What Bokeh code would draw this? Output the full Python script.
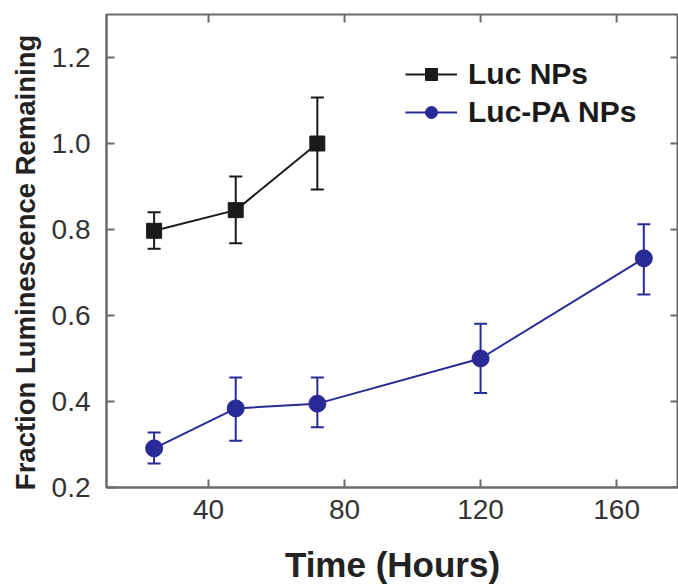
import math
from bokeh.plotting import figure
from bokeh.models import (ColumnDataSource, Whisker, TeeHead, Legend, LegendItem,
                          FixedTicker, Range1d, NumeralTickFormatter)
from bokeh.embed import file_html
from bokeh.resources import INLINE

# ---- data ----
luc_time = [24, 48, 72]
luc_mean = [0.797, 0.845, 1.000]
luc_lower = [0.755, 0.768, 0.893]
luc_upper = [0.840, 0.923, 1.107]

pa_time = [24, 48, 72, 120, 168]
pa_mean = [0.291, 0.384, 0.395, 0.500, 0.733]
pa_lower = [0.256, 0.309, 0.340, 0.420, 0.649]
pa_upper = [0.328, 0.456, 0.456, 0.581, 0.812]

x_ticks = [40, 80, 120, 160]
y_ticks = [0.2, 0.4, 0.6, 0.8, 1.0, 1.2]

BLACK = "#1a1a1a"
BLUE = "#2a2a96"
AXIS = "#6a6a6a"
FONT = "Liberation Sans"

X_START, X_END = 10, 178.2
Y_START, Y_END = 0.2, 1.3

p = figure(width=678, height=588, output_backend="svg", toolbar_location=None,
           x_range=Range1d(X_START, X_END), y_range=Range1d(Y_START, Y_END),
           min_border_left=106, min_border_right=0, min_border_top=14,
           min_border_bottom=101)
p.outline_line_color = AXIS
p.outline_line_width = 2
p.xgrid.visible = False
p.ygrid.visible = False


def style_axis(ax, ticks):
    ax.ticker = FixedTicker(ticks=ticks)
    ax.axis_line_color = AXIS
    ax.axis_line_width = 2
    ax.major_tick_line_color = AXIS
    ax.major_tick_line_width = 2
    ax.major_tick_in = 8
    ax.major_tick_out = 0
    ax.minor_tick_line_color = None
    ax.major_label_text_font = FONT
    ax.major_label_text_font_size = "28px"
    ax.major_label_text_color = "#333333"
    ax.axis_label_text_font = FONT
    ax.axis_label_text_font_style = "bold"
    ax.axis_label_text_color = "#222222"


xa = p.xaxis[0]
style_axis(xa, x_ticks)
xa.axis_label = "Time (Hours)"
xa.axis_label_text_font_size = "35px"
xa.major_label_standoff = 12
xa.axis_label_standoff = 23

ya = p.yaxis[0]
style_axis(ya, y_ticks)
ya.formatter = NumeralTickFormatter(format="0.0")
# trailing non-breaking spaces nudge the label slightly downward, as in the original
ya.axis_label = "Fraction Luminescence Remaining\u00a0\u00a0\u00a0"
ya.axis_label_text_font_size = "27.5px"
ya.major_label_standoff = 16
ya.axis_label_standoff = 8

# inward tick marks on the top and right frame edges (clipped to the frame)
p.scatter(x=x_ticks, y=[Y_END] * len(x_ticks), marker="dash", angle=math.pi / 2,
          size=16, line_color=AXIS, line_width=2)
p.scatter(x=[X_END] * len(y_ticks), y=y_ticks, marker="dash",
          size=16, line_color=AXIS, line_width=2)

luc_src = ColumnDataSource(dict(x=luc_time, y=luc_mean, lo=luc_lower, hi=luc_upper))
pa_src = ColumnDataSource(dict(x=pa_time, y=pa_mean, lo=pa_lower, hi=pa_upper))

for src, col in ((luc_src, BLACK), (pa_src, BLUE)):
    w = Whisker(source=src, base="x", lower="lo", upper="hi", dimension="height",
                line_color=col, line_width=2,
                upper_head=TeeHead(size=13, line_color=col, line_width=2),
                lower_head=TeeHead(size=13, line_color=col, line_width=2))
    p.add_layout(w)

l1 = p.line("x", "y", source=luc_src, line_color=BLACK, line_width=2)
m1 = p.scatter("x", "y", source=luc_src, marker="square", size=15,
               fill_color=BLACK, line_color=BLACK)
l2 = p.line("x", "y", source=pa_src, line_color=BLUE, line_width=2)
m2 = p.scatter("x", "y", source=pa_src, marker="circle", size=17,
               fill_color=BLUE, line_color=BLUE)

legend = Legend(items=[LegendItem(label="Luc NPs", renderers=[l1, m1]),
                       LegendItem(label="Luc-PA NPs", renderers=[l2, m2])],
                location=(299, 358))
legend.padding = 0
legend.margin = 0
legend.border_line_color = None
legend.background_fill_alpha = 0
legend.glyph_width = 52
legend.glyph_height = 30
legend.label_height = 30
legend.spacing = 4
legend.label_standoff = 11
legend.label_text_font = FONT
legend.label_text_font_style = "bold"
legend.label_text_font_size = "30px"
legend.label_text_color = "#1a1a1a"
p.add_layout(legend)

open("out.html", "w").write(file_html(p, INLINE))
